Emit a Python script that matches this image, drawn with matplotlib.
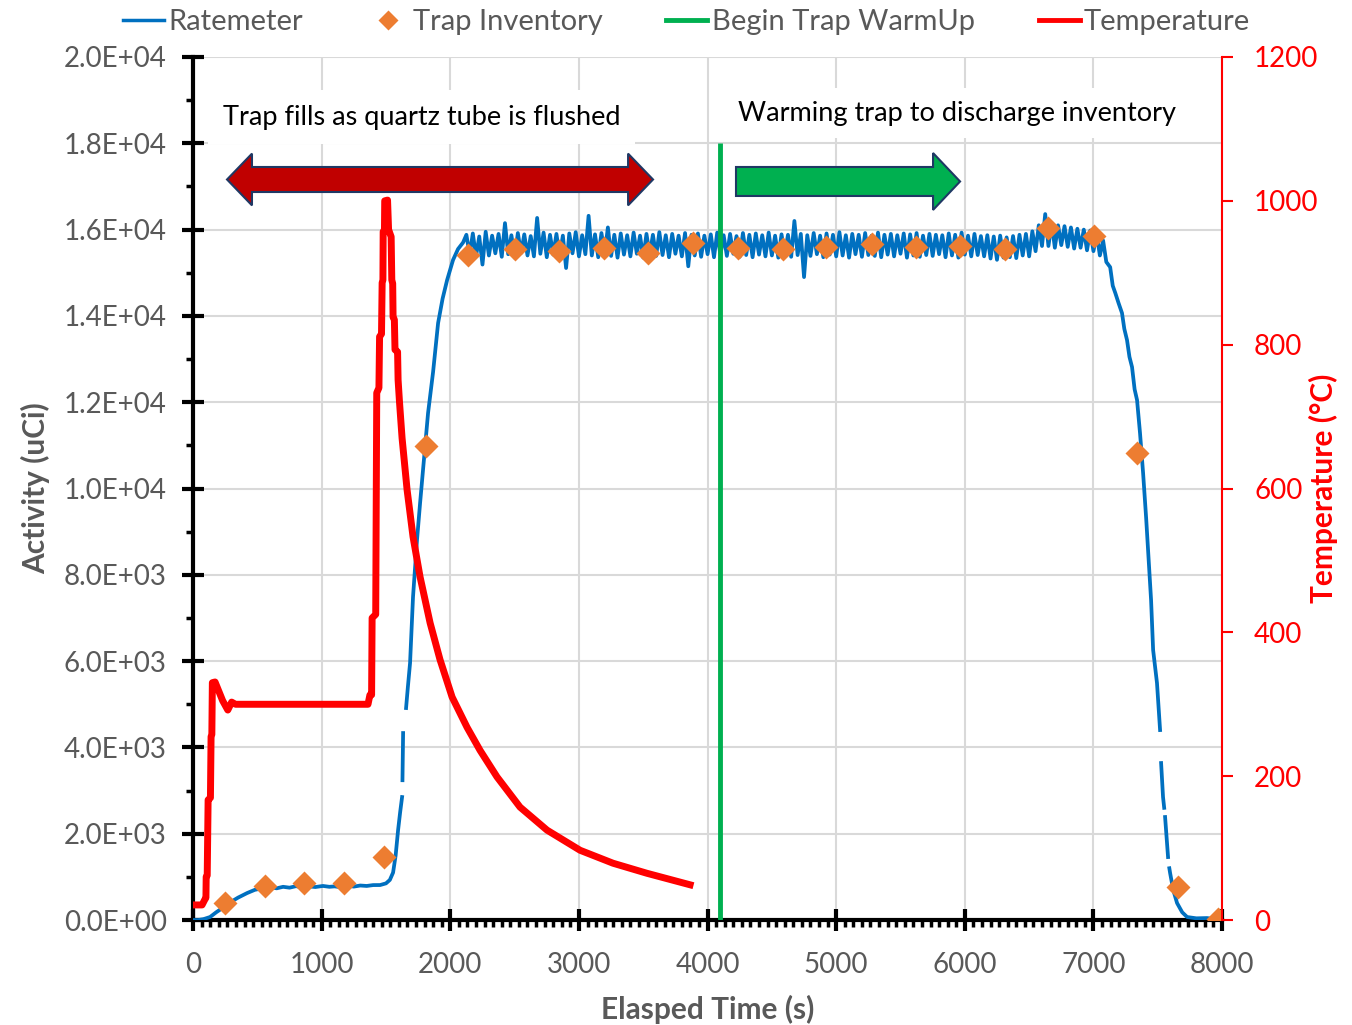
import numpy as np
import matplotlib
matplotlib.use('Agg')
import matplotlib.pyplot as plt
from matplotlib.patches import Polygon
from matplotlib.lines import Line2D
from matplotlib.ticker import MultipleLocator, FormatStrFormatter

plt.rcParams['font.family'] = ['Lato', 'DejaVu Sans']

GRAY = '#595959'

# ratemeter: filling phase (NaN = gaps in the logged trace)
rise_t = [0, 40, 80, 132, 180, 250, 300, 350, 420, 480, 545, 600, 650, 700, 750, 800, 850,
          900, 950, 1010, 1060, 1100, 1150, 1200, 1250, 1300, 1350, 1400, 1454, 1500, 1530,
          1555, 1575, 1594, 1610, 1625, 1626, 1628, 1633, 1640, 1656, 1670, 1687, 1710, 1741,
          1765, 1804, 1827, 1866, 1905, 1940, 1975, 2021, 2060, 2099]
rise_a = [0, 0, 20, 70, 180, 320, 430, 520, 625, 700, 740, 760, 735, 770, 750, 785, 760,
          780, 765, 790, 770, 780, 760, 795, 775, 800, 790, 810, 811, 850, 930,
          1100, 1500, 2086, 2500, 2850, np.nan, 3240, 4333, np.nan, 4913, 5400, 5956, 7486, 8806,
          9664, 10962, 11750, 12700, 13835, 14400, 14830, 15295, 15550, 15700]

# ratemeter: plateau, one reading every 25 s from 2125 s to 7100 s
plat_t = np.arange(2125, 7101, 25)
plat_a = [15880, 15420, 15910, 15380, 15840, 15190, 15950, 15400, 15860, 15450,
          15900, 15370, 16150, 15430, 15870, 15350, 15920, 15460, 15890, 15400,
          15850, 15380, 16270, 15440, 15930, 15360, 15880, 15420, 15900, 15390,
          15860, 15110, 15910, 15450, 15940, 15380, 15870, 15430, 16320, 15400,
          15890, 15360, 15920, 15440, 16050, 15390, 15880, 15350, 15910, 15420,
          15870, 15380, 15930, 15440, 15860, 15350, 15900, 15420, 15880, 15390,
          15940, 15410, 15870, 15360, 15900, 15440, 15860, 15380, 15920, 15150,
          15880, 15400, 15910, 15370, 15860, 15430, 15890, 15360, 15930, 15410,
          15870, 15390, 15900, 15440, 15850, 15370, 15920, 15410, 15880, 15360,
          15910, 15420, 15870, 15380, 15930, 15400, 15860, 15350, 15890, 15430,
          15880, 15370, 16200, 15410, 15900, 14900, 15870, 15390, 15920, 15430,
          15860, 15360, 15910, 15420, 15880, 15380, 15940, 15400, 15870, 15350,
          15900, 15430, 15880, 15370, 15920, 15410, 15860, 15390, 15930, 15360,
          15880, 15420, 15900, 15380, 15870, 15440, 15910, 15350, 15890, 15400,
          15920, 15370, 15860, 15410, 15900, 15390, 15880, 15430, 15870, 15360,
          15910, 15400, 15880, 15350, 15930, 15420, 15860, 15380, 15900, 15410,
          15850, 15380, 15870, 15330, 15840, 15300, 15860, 15350, 15820, 15360,
          15850, 15340, 15880, 15400, 15900, 15380, 15960, 15500, 16100, 15620,
          16360, 15620, 16150, 15580, 16100, 15640, 16080, 15600, 16050, 15560,
          16020, 15580, 16000, 15520, 15980, 15500, 15900, 15400, 15750, 15250]

# ratemeter: discharge phase
fall_t = [7130, 7150, 7170, 7195, 7222, 7240, 7261, 7280, 7300, 7320, 7339, 7362, 7386, 7410,
          7430, 7448, 7464, 7494, 7518, 7522, 7526, 7541, 7550, 7553, 7557, 7580, 7585, 7590,
          7596, 7620, 7650, 7690, 7728, 7800, 7883, 7950, 8000]
fall_a = [15130, 14700, 14530, 14300, 14066, 13700, 13440, 13050, 12815, 12300, 12050, 11286,
          10359, 9300, 8300, 7416, 6257, 5492, 4403, np.nan, 3638, 2850, 2600, np.nan, 2387, 1460,
          np.nan, 1200, 1089, 700, 394, 180, 70, 40, 46, 20, 10]

rate_t = np.concatenate([rise_t, plat_t, fall_t])
rate_a = np.concatenate([rise_a, plat_a, fall_a])

# trap inventory samples
inv_t = [249, 560, 863, 1174, 1485, 1811, 2138, 2503, 2845, 3195, 3537, 3887, 4237, 4587,
         4921, 5279, 5621, 5963, 6313, 6647, 7005, 7339, 7658, 7969]
inv_a = [394, 788, 857, 857, 1460, 10985, 15410, 15550, 15500, 15573, 15457, 15690, 15573,
         15550, 15596, 15666, 15596, 15620, 15550, 16036, 15850, 10822, 765, 23]

# temperature (right axis)
temp_t = [0, 70, 90, 100, 102, 110, 117, 135, 140, 146, 150, 171, 230, 270, 300, 330, 1360,
          1375, 1388, 1392, 1420, 1428, 1445, 1450, 1465, 1470, 1476, 1478, 1488, 1490, 1512,
          1520, 1540, 1545, 1552, 1555, 1565, 1570, 1590, 1594, 1605, 1625, 1664, 1710, 1765,
          1843, 1920, 2014, 2130, 2231, 2363, 2542, 2752, 3009, 3265, 3529, 3864]
temp_c = [21, 21, 28, 31, 60, 62, 167, 170, 255, 258, 330, 331, 305, 292, 303, 300, 300,
          313, 313, 420, 425, 733, 740, 811, 815, 886, 890, 957, 960, 1000, 1001,
          960, 950, 890, 885, 838, 835, 793, 790, 751, 720, 670, 598, 533, 477,
          413, 362, 310, 268, 236, 199, 157, 125, 97, 79, 65, 49]

warmup_t = 4100

fig = plt.figure(figsize=(13.52, 10.25), dpi=100)
ax = fig.add_axes([0.1428, 0.1024, 0.7611, 0.8420])
ax2 = ax.twinx()

ax.plot(rate_t, rate_a, color='#0070C0', lw=2.7, zorder=3)
ax.plot(inv_t, inv_a, 'D', color='#ED7D31', ms=12, mec='none', zorder=4)
ax.vlines(warmup_t, 0, 18000, color='#00B050', lw=3.5, zorder=5)

ax.set_xlim(0, 8000)
ax.set_ylim(0, 20000)
ax.xaxis.set_major_locator(MultipleLocator(1000))
ax.xaxis.set_minor_locator(MultipleLocator(1000 / 15))
ax.yaxis.set_major_locator(MultipleLocator(2000))
ax.yaxis.set_minor_locator(MultipleLocator(1000))
ax.yaxis.set_major_formatter(FormatStrFormatter('%.1E'))
ax.grid(which='major', color='#D9D9D9', lw=1.5)
ax.set_axisbelow(True)
for s in ['top', 'right']:
    ax.spines[s].set_visible(False)
for s in ['left', 'bottom']:
    ax.spines[s].set_linewidth(3)
ax.tick_params(which='major', direction='inout', length=16, width=3,
               labelsize=20, labelcolor=GRAY)
ax.tick_params(axis='y', which='major', pad=11)
ax.tick_params(axis='x', which='major', pad=15)
ax.tick_params(which='minor', direction='out', length=5, width=2.5)
ax.set_xlabel('Elasped Time (s)', fontsize=21.5, fontweight='bold', color=GRAY, labelpad=12)
ax.set_ylabel('Activity (uCi)', fontsize=21.5, fontweight='bold', color=GRAY, labelpad=10)

ax2.plot(temp_t, temp_c, color='#FF0000', lw=5, zorder=3)
ax2.set_ylim(0, 1200)
ax2.yaxis.set_major_locator(MultipleLocator(200))
for s in ['top', 'left', 'bottom']:
    ax2.spines[s].set_visible(False)
ax2.spines['right'].set_color('#FF0000')
ax2.spines['right'].set_linewidth(1.5)
ax2.tick_params(axis='y', direction='out', length=8, width=1.5, color='#FF0000',
                labelsize=20, labelcolor='#FF0000', pad=15)
ax2.set_ylabel('Temperature (°C)', fontsize=21.5, fontweight='bold', color='#FF0000', labelpad=-7)

# annotation arrows (drawn in activity/time coordinates)
def arrow_poly(x0, x1, yc, body, head, hl, double):
    pts = []
    if double:
        pts += [(x0, yc), (x0 + hl, yc + head), (x0 + hl, yc + body)]
    else:
        pts += [(x0, yc + body)]
    pts += [(x1 - hl, yc + body), (x1 - hl, yc + head), (x1, yc),
            (x1 - hl, yc - head), (x1 - hl, yc - body)]
    if double:
        pts += [(x0 + hl, yc - body), (x0 + hl, yc - head)]
    else:
        pts += [(x0, yc - body)]
    return pts

red_arrow = Polygon(arrow_poly(264, 3576, 17161, 290, 600, 194, True), closed=True,
                    fc='#C00000', ec='#1F3864', lw=1.5, transform=ax.transData, zorder=8)
green_arrow = Polygon(arrow_poly(4221, 5963, 17115, 336, 660, 210, False), closed=True,
                      fc='#00B050', ec='#1F3864', lw=1.5, transform=ax.transData, zorder=8)
ax2.add_patch(red_arrow)
ax2.add_patch(green_arrow)

ax2.text(233, 18609, 'Trap fills as quartz tube is flushed', transform=ax.transData,
         fontsize=19.5, va='center', ha='left', color='black', zorder=9,
         bbox=dict(fc='white', ec='none', boxstyle='square,pad=0.55'))
ax2.text(4237, 18702, 'Warming trap to discharge inventory', transform=ax.transData,
         fontsize=19.5, va='center', ha='left', color='black', zorder=9,
         bbox=dict(fc='white', ec='none', boxstyle='square,pad=0.45'))

handles = [Line2D([], [], color='#0070C0', lw=2.5),
           Line2D([], [], marker='D', ls='none', color='#ED7D31', ms=10, mec='none'),
           Line2D([], [], color='#00B050', lw=3.5),
           Line2D([], [], color='#FF0000', lw=3.5)]
labels = ['Ratemeter', 'Trap Inventory', 'Begin Trap WarmUp', 'Temperature']
fig.legend(handles, labels, loc='upper center', bbox_to_anchor=(0.508, 1.017), ncol=4,
           frameon=False, fontsize=21, handlelength=1.4, handletextpad=0.15,
           columnspacing=2.2, labelcolor=GRAY)

fig.savefig('out.png', dpi=100)
